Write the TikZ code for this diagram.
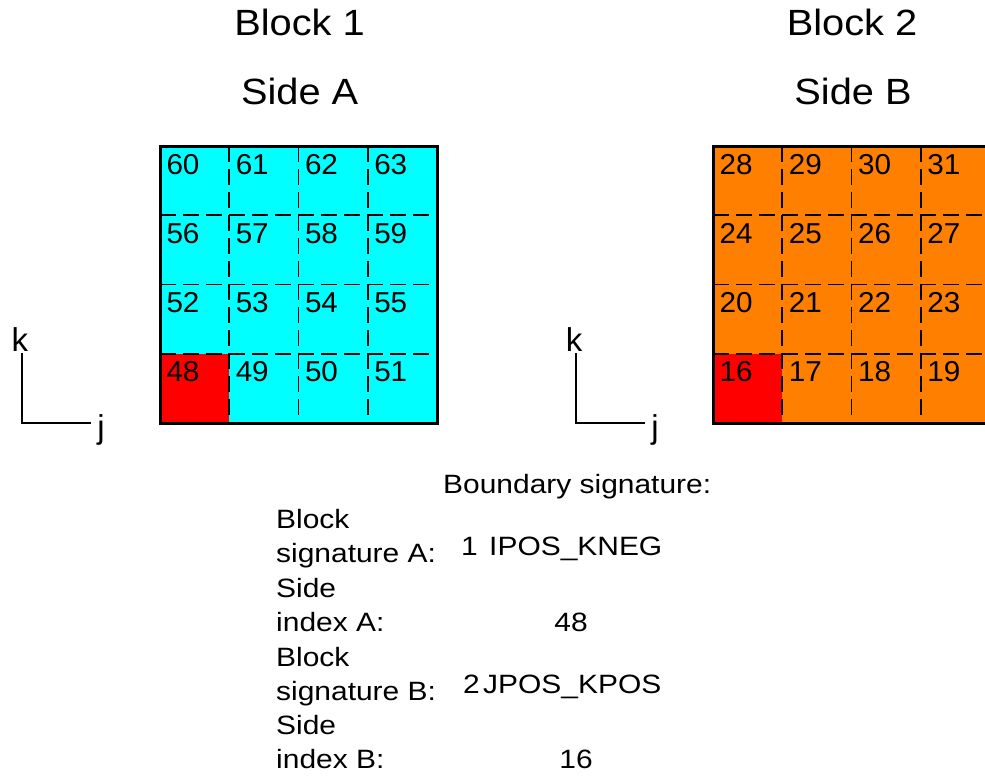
\documentclass[tikz,border=0pt]{standalone}
\usepackage{fontspec}
\setmainfont{Liberation Sans}
\newfontfamily\titlefont[FakeStretch=1.09]{Liberation Sans}
\newfontfamily\cellfont[FakeStretch=1.03]{Liberation Sans}
\newfontfamily\notefont[FakeStretch=1.13]{Liberation Sans}
\definecolor{blockcyan}{HTML}{00FFFF}
\definecolor{blockorange}{HTML}{FF8000}
\definecolor{cornerred}{HTML}{FF0000}

\begin{document}
\begin{tikzpicture}[x=1pt,y=-1pt,
  title/.style={font=\titlefont\fontsize{36.5}{40}\selectfont, inner sep=0pt, anchor=base},
  cellnum/.style={font=\cellfont\fontsize{28.8}{32}\selectfont, inner sep=0pt, anchor=base west},
  note/.style={font=\notefont\fontsize{26.5}{30}\selectfont, inner sep=0pt, anchor=base west},
  notec/.style={note, anchor=base},
  axislbl/.style={font=\fontsize{33}{36}\selectfont, inner sep=0pt, anchor=base},
  gridline/.style={line width=1.6pt, dash pattern=on 16pt off 7pt},
  border/.style={line width=3pt},
  axisline/.style={line width=1.4pt},
]
\clip (0,0) rectangle (985,776);

% titles
\node[title] (b1) at (299.5,36) {Block 1};
\node[title] (s1) at (299.7,104) {Side A};
\node[title] (b2) at (852,36) {Block 2};
\node[title] (s2) at (853,104) {Side B};

% the two 4x4 faces
\foreach \gx/\col/\base/\nm in {160/blockcyan/48/a, 713/blockorange/16/b} {
  \fill[\col] (\gx,146) rectangle ++(277,277);
  \fill[cornerred] (\gx,353.75) rectangle ++(69.25,69.25);
  \foreach \i in {1,2,3} {
    \draw[gridline] (\gx+\i*69.25,146) -- ++(0,277);
    \draw[gridline] (\gx,146+\i*69.25) -- ++(277,0);
  }
  \draw[border] (\gx,146) rectangle ++(277,277);
  \foreach \r in {0,...,3} \foreach \c in {0,...,3} {
    \pgfmathtruncatemacro\num{\base+12-4*\r+\c}
    \node[cellnum] (\nm\num) at (\gx+6.3+\c*69.25, 174+\r*69.25) {\num};
  }
}

% axis triads
\foreach \ox/\kx/\jx/\nm in {22/20/101/1, 576/574/655/2} {
  \node[axislbl] (k\nm) at (\kx,351.7) {k};
  \node[axislbl] (j\nm) at (\jx,438.6) {j};
  \coordinate (top\nm) at (\ox,353);
  \coordinate (o\nm) at (\ox,423);
  \coordinate (end\nm) at (\ox+69,423);
  \draw[axisline] (top\nm) -- (o\nm) -- (end\nm);
}

% boundary signature
\node[note] (bs) at (443,493) {Boundary signature:};
\node[note] (l1) at (276,528) {Block};
\node[note] (l2) at (276,562) {signature A:};
\node[note] (l3) at (276,597) {Side};
\node[note] (l4) at (276,631) {index A:};
\node[note] (l5) at (276,666) {Block};
\node[note] (l6) at (276,700) {signature B:};
\node[note] (l7) at (276,734) {Side};
\node[note] (l8) at (276,768) {index B:};
\node[note] (v1) at (461,555) {1};
\node[note] (v2) at (489,555) {IPOS\_KNEG};
\node[notec] (v3) at (571,631) {48};
\node[note] (v4) at (463,693) {2};
\node[note] (v5) at (483,693) {JPOS\_KPOS};
\node[notec] (v6) at (576,768) {16};
\end{tikzpicture}
\end{document}
